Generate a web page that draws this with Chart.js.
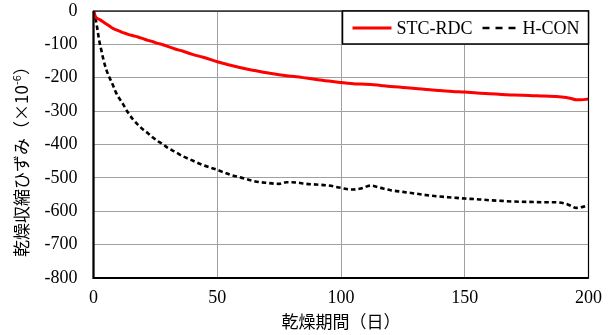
<!DOCTYPE html>
<html lang="ja">
<head>
<meta charset="utf-8">
<script src="https://cdn.jsdelivr.net/npm/chart.js@4.4.1/dist/chart.umd.min.js"></script>
<style>
  body { margin: 0; background: #fff; }
  #wrap { width: 614px; height: 335px; }
</style>
</head>
<body>
<div id="wrap"><canvas id="shrinkChart"></canvas></div>
<script>
// 乾燥期間（日）
const days = [0, 0.5, 1, 1.5, 2, 2.5, 3, 4, 5, 6, 7, 8, 9, 10, 11, 12, 14, 16, 18, 20,
  22, 24, 26, 28, 30, 33, 36, 40, 44, 48, 50, 55, 60, 65, 70, 75, 78, 82, 86, 90,
  95, 100, 104, 108, 112, 116, 120, 125, 130, 136, 140, 145, 150, 155, 160, 165, 170, 176, 182, 187,
  191, 193, 195, 197, 200];

// 乾燥収縮ひずみ（×10^-6）
const stcRdc = [0, -12, -19, -22, -24, -26, -28, -33, -38, -43, -48, -53, -56, -59, -62, -65, -70, -74, -78, -83,
  -88, -92, -97, -101, -106, -114, -120, -130, -138, -147, -152, -162, -171, -178, -185, -191, -194, -197, -201, -205,
  -210, -214, -217, -219, -220, -223, -226, -229, -232, -236, -238, -241, -243, -246, -248, -250, -252, -253, -255, -256,
  -259, -262, -266, -266, -264];

const hCon = [0, -11, -30, -51, -75, -96, -112, -145, -172, -192, -208, -225, -243, -257, -268, -280, -305, -325, -341, -355,
  -366, -379, -390, -399, -410, -422, -435, -448, -461, -471, -476, -490, -500, -510, -515, -518, -513, -514, -518, -520,
  -523, -530, -535, -532, -523, -530, -537, -542, -547, -553, -556, -559, -562, -564, -567, -569, -571, -572, -573, -573,
  -578, -584, -590, -588, -582];

const xTicks = [0, 50, 100, 150, 200];
const yTicks = [0, -100, -200, -300, -400, -500, -600, -700, -800];

const serif = '"Liberation Serif", "Times New Roman", serif';
const gothic = '"Noto Sans CJK JP", "Noto Sans", sans-serif';

// 枠線（左・下は太め）
const plotFrame = {
  id: 'plotFrame',
  afterDraw(chart) {
    const { ctx, chartArea: a } = chart;
    ctx.save();
    ctx.strokeStyle = '#000';
    ctx.lineWidth = 1.2;
    ctx.strokeRect(a.left, a.top, a.right - a.left, a.bottom - a.top);
    ctx.lineWidth = 2.2;
    ctx.beginPath();
    ctx.moveTo(a.left, a.top);
    ctx.lineTo(a.left, a.bottom);
    ctx.lineTo(a.right, a.bottom);
    ctx.stroke();
    ctx.restore();
  }
};

// 凡例（右上の枠付き）
const boxLegend = {
  id: 'boxLegend',
  afterDraw(chart) {
    const { ctx, chartArea: a } = chart;
    const w = 246, h = 33;
    const x0 = a.right - w, y0 = a.top;
    const cy = y0 + h / 2 + 0.5;
    ctx.save();
    ctx.fillStyle = '#fff';
    ctx.fillRect(x0, y0, w, h);
    ctx.strokeStyle = '#000';
    ctx.lineWidth = 1.5;
    ctx.strokeRect(x0, y0, w, h);

    const items = [
      { lineFrom: 10, lineTo: 49, textAt: 54 },
      { lineFrom: 140, lineTo: 179, textAt: 180 }
    ];
    ctx.font = '18px ' + serif;
    ctx.textBaseline = 'middle';
    chart.data.datasets.forEach((ds, i) => {
      const it = items[i];
      ctx.beginPath();
      ctx.strokeStyle = ds.borderColor;
      ctx.lineWidth = ds.borderWidth;
      ctx.setLineDash(ds.borderDash && ds.borderDash.length ? [7, 6] : []);
      ctx.moveTo(x0 + it.lineFrom, cy);
      ctx.lineTo(x0 + it.lineTo, cy);
      ctx.stroke();
      ctx.setLineDash([]);
      ctx.fillStyle = '#000';
      ctx.fillText(ds.label, x0 + it.textAt, cy + 1);
    });
    ctx.restore();
  }
};

// 縦軸タイトル（上付き -6 付き）
const yTitle = {
  id: 'yTitle',
  afterDraw(chart) {
    const { ctx, chartArea: a } = chart;
    const main = '乾燥収縮ひずみ（×10';
    const sup = '-6';
    const tail = '）';
    ctx.save();
    ctx.fillStyle = '#000';
    ctx.textBaseline = 'middle';
    const bigFont = '17px ' + gothic;
    const smallFont = '11px ' + gothic;
    ctx.font = bigFont;
    const wMain = ctx.measureText(main).width;
    const wTail = ctx.measureText(tail).width;
    ctx.font = smallFont;
    const wSup = ctx.measureText(sup).width;
    const total = wMain + wSup + wTail;
    ctx.translate(22, (a.top + a.bottom) / 2 + 13);
    ctx.rotate(-Math.PI / 2);
    let x = -total / 2;
    ctx.font = bigFont;
    ctx.fillText(main, x, 0);
    x += wMain;
    ctx.font = smallFont;
    ctx.fillText(sup, x, -5);
    x += wSup;
    ctx.font = bigFont;
    ctx.fillText(tail, x, 0);
    ctx.restore();
  }
};

const ctx = document.getElementById('shrinkChart').getContext('2d');
const shrinkChart = new Chart(ctx, {
  type: 'line',
  data: {
    datasets: [
      {
        label: 'STC-RDC',
        data: days.map((d, i) => ({ x: d, y: stcRdc[i] })),
        borderColor: '#ff0000',
        borderWidth: 3,
        borderDash: [],
        pointRadius: 0,
        cubicInterpolationMode: 'monotone'
      },
      {
        label: 'H-CON',
        data: days.map((d, i) => ({ x: d, y: hCon[i] })),
        borderColor: '#000000',
        borderWidth: 2.6,
        borderDash: [4.5, 3],
        pointRadius: 0,
        cubicInterpolationMode: 'monotone'
      }
    ]
  },
  options: {
    responsive: true,
    maintainAspectRatio: false,
    animation: false,
    layout: { padding: { top: 11, right: 25.5, left: 0, bottom: 0 } },
    plugins: {
      legend: { display: false },
      tooltip: { enabled: false }
    },
    scales: {
      x: {
        type: 'linear',
        min: 0,
        max: 200,
        afterBuildTicks: (scale) => { scale.ticks = xTicks.map(v => ({ value: v })); },
        afterFit: (scale) => {
          scale.height = 57;
          scale.paddingLeft = 0;
          scale.paddingRight = 0;
        },
        grid: { color: '#a0a0a0', lineWidth: 1, drawTicks: false },
        border: { display: false },
        ticks: { color: '#000', font: { family: serif, size: 18 }, padding: 9, maxRotation: 0 },
        title: {
          display: true,
          text: '乾燥期間（日）',
          color: '#000',
          font: { family: gothic, size: 17 },
          padding: { top: 0, bottom: 3 }
        }
      },
      y: {
        min: -800,
        max: 0,
        afterBuildTicks: (scale) => { scale.ticks = yTicks.map(v => ({ value: v })); },
        afterFit: (scale) => {
          scale.width = 93.5;
          scale.paddingTop = 0;
          scale.paddingBottom = 0;
        },
        grid: { color: '#a0a0a0', lineWidth: 1, drawTicks: false },
        border: { display: false },
        ticks: { color: '#000', font: { family: serif, size: 18 }, padding: 16 }
      }
    }
  },
  plugins: [plotFrame, boxLegend, yTitle]
});
</script>
</body>
</html>
